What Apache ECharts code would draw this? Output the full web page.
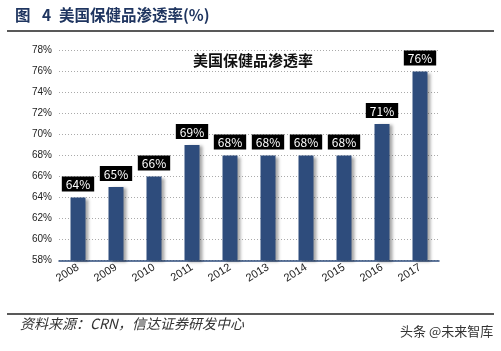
<!DOCTYPE html>
<html><head><meta charset="utf-8">
<script src="https://cdn.jsdelivr.net/npm/echarts@6/dist/echarts.min.js"></script>
<style>html,body{margin:0;padding:0;background:#fff}#c{width:501px;height:351px}</style>
</head><body><div id="c"></div>
<script>
const categories = ['2008','2009','2010','2011','2012','2013','2014','2015','2016','2017'];
const penetration = [64,65,66,69,68,68,68,68,71,76];
const chart = echarts.init(document.getElementById('c'));
const FONT = '"Noto Sans CJK SC", "Noto Sans", sans-serif';
chart.setOption({
  animation: false,
  backgroundColor: '#fff',
  title: {
    text: '美国保健品渗透率',
    left: 248, top: 48, textAlign: 'center',
    textStyle: {fontSize: 15, fontWeight: 'bold', color: '#111', fontFamily: FONT}
  },
  grid: {left: 59, right: 62, top: 50.5, bottom: 90.5},
  xAxis: {
    type: 'category', data: categories,
    axisLine: {lineStyle: {color: '#2e4c7c', width: 1.5}},
    axisTick: {inside: true, length: 4, lineStyle: {color: '#2e4c7c'}},
    axisLabel: {rotate: 32, color: '#222', fontSize: 11, fontFamily: 'Liberation Sans, Arial, sans-serif', margin: 6}
  },
  yAxis: {
    type: 'value', min: 58, max: 78, interval: 2,
    axisLine: {show: false}, axisTick: {show: false},
    axisLabel: {formatter: '{value}%', color: '#222', fontSize: 10, fontFamily: 'Liberation Sans, Arial, sans-serif', margin: 7},
    splitLine: {lineStyle: {color: '#aaa', type: [1, 2], width: 1}}
  },
  series: [{
    type: 'bar', data: penetration, barWidth: 15,
    itemStyle: {color: '#2e4c7c', shadowColor: 'rgba(0,0,0,0.35)', shadowBlur: 3, shadowOffsetX: 3, shadowOffsetY: 1},
    label: {
      show: true, position: 'top', distance: 6, formatter: '{c}%',
      color: '#fff', backgroundColor: '#000', padding: [2, 4, 1, 4],
      fontSize: 12, fontFamily: FONT
    }
  }],
  graphic: [
    {type: 'text', left: 15, top: 7, style: {text: '图', fontSize: 15.5, fontWeight: 'bold', fill: '#1f3560', fontFamily: FONT}},
    {type: 'text', left: 42, top: 7, style: {text: '4', fontSize: 15.5, fontWeight: 'bold', fill: '#1f3560', fontFamily: FONT}},
    {type: 'text', left: 59, top: 7, style: {text: '美国保健品渗透率(%)', fontSize: 15.5, fontWeight: 'bold', fill: '#1f3560', fontFamily: FONT}},
    {type: 'line', shape: {x1: 7, y1: 31, x2: 494, y2: 31}, style: {stroke: '#222', lineWidth: 1.5}},
    {type: 'line', shape: {x1: 7, y1: 314, x2: 494, y2: 314}, style: {stroke: '#222', lineWidth: 1.5}},
    {type: 'text', left: 20, top: 317, style: {text: '资料来源：CRN，信达证券研发中心', fontSize: 14, fontStyle: 'italic', fill: '#333', fontFamily: FONT}},
    {type: 'text', left: 400, top: 325, style: {text: '头条 @未来智库', fontSize: 13, fill: '#333', fontFamily: FONT}}
  ]
});
</script></body></html>
